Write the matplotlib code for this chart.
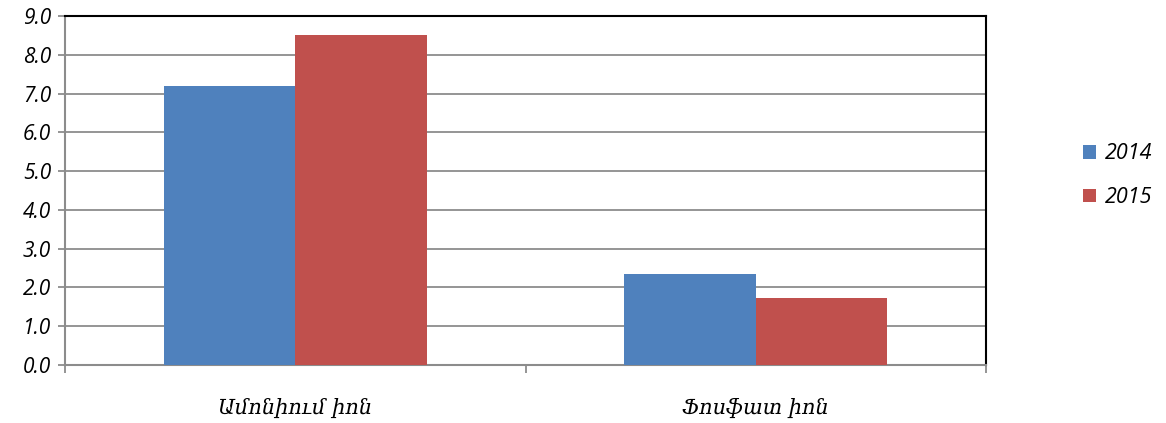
import matplotlib
matplotlib.use("Agg")
import matplotlib.pyplot as plt
import numpy as np

categories = ["Ամոնիում իոն", "Ֆոսֆատ իոն"]
series_names = ["2014", "2015"]
values_2014 = [7.2, 2.35]
values_2015 = [8.5, 1.72]
yticks = [0.0, 1.0, 2.0, 3.0, 4.0, 5.0, 6.0, 7.0, 8.0, 9.0]

colors = ["#4F81BD", "#C0504D"]
tick_font = {"family": "Open Sans", "style": "italic", "size": 15}
leg_font = {"family": "Open Sans", "style": "italic", "size": 15.5}

fig = plt.figure(figsize=(11.66, 4.23), dpi=100)
ax = fig.add_axes([65/1166, 1-365/423, (986-65)/1166, (365-16)/423])

x = np.arange(len(categories))
w = 1/3.5
ax.bar(x - w/2, values_2014, width=w, color=colors[0], label=series_names[0], zorder=3)
ax.bar(x + w/2, values_2015, width=w, color=colors[1], label=series_names[1], zorder=3)

ax.set_xlim(-0.5, len(categories) - 0.5)
ax.set_ylim(0, 9)
ax.set_yticks(yticks)
ax.set_yticklabels([f"{t:.1f}" for t in yticks], fontdict=tick_font)
ax.yaxis.grid(True, color="#8c8c8c", linewidth=1.3, zorder=0)
ax.tick_params(axis="y", length=5, width=1.3, color="#8c8c8c", pad=5)

ax.set_xticks([-0.5, 0.5, 1.5])
ax.set_xticklabels([])
ax.tick_params(axis="x", length=6, width=1.3, color="#8c8c8c")
for xi, c in zip(x, categories):
    ax.text(xi, -0.85, c, ha="center", va="top", fontsize=15, style="italic",
            family=["DejaVu Serif", "DejaVu Sans"], transform=ax.transData)

for s in ["left", "bottom"]:
    ax.spines[s].set_color("#8c8c8c")
    ax.spines[s].set_linewidth(1.5)
for s in ["top", "right"]:
    ax.spines[s].set_color("black")
    ax.spines[s].set_linewidth(1.5)

leg = fig.legend(loc="upper left", bbox_to_anchor=(1064/1166, 1-124/423), frameon=False,
                 prop=leg_font,
                 handlelength=0.6, handleheight=0.6, handletextpad=0.4, labelspacing=1.05)

fig.savefig("out.png", dpi=100)
